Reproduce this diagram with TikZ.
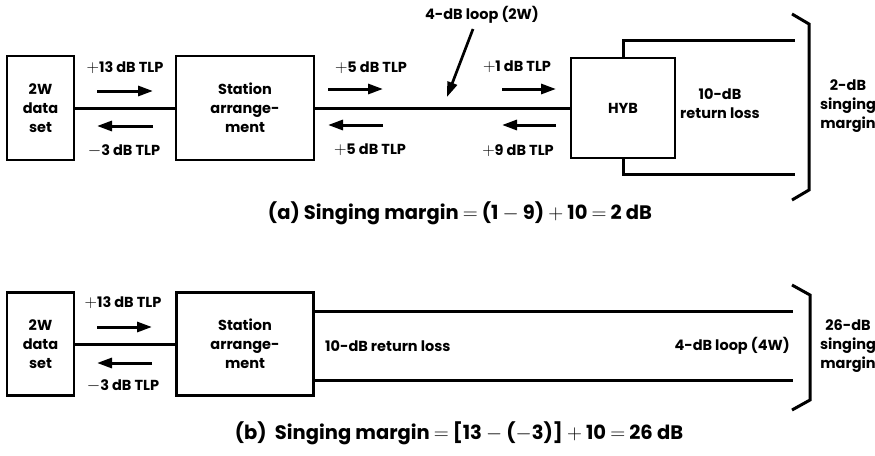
\documentclass[tikz,border=0pt]{standalone}
\usepackage{fontspec}
\setmainfont{Poppins}
\usetikzlibrary{arrows.meta}
\newcommand{\lbfont}{\fontsize{14.5}{19}\selectfont\bfseries}
\newcommand{\capfont}{\fontsize{19.5}{22}\selectfont\bfseries}
\newcommand{\pl}{{\fontsize{17}{19}\selectfont\(\mathbf{+}\)}}
\newcommand{\mi}{{\fontsize{17}{19}\selectfont\(\mathbf{-}\)}}
\begin{document}
\begin{tikzpicture}[x=1pt,y=-1pt,
  box/.style={draw, line width=2.7pt, align=center, inner sep=0pt, font=\lbfont},
  lbl/.style={font=\lbfont, inner sep=0pt, align=center},
  captext/.style={font=\capfont, inner sep=0pt},
  wire/.style={line width=3pt, line join=miter},
  sig/.style={line width=3pt, -{Triangle[length=15pt,width=10pt]}},
  loopar/.style={line width=2.7pt, -{Triangle[length=15pt,width=10pt]}}]
\useasboundingbox (0,0) rectangle (875,455);

% ---------------- (a) ----------------
\node[box, minimum width=67pt, minimum height=104pt] (ds1) at (40.5,108) {2W\\data\\set};
\node[box, minimum width=138pt, minimum height=104pt] (sa1) at (245,108) {Station\\arrange-\\ment};
\node[box, minimum width=104pt, minimum height=100pt] (hyb) at (623,108) {HYB};
\draw[wire] (ds1) -- (sa1);
\draw[wire] (sa1) -- (hyb);
\coordinate (ha) at (795,40);
\coordinate (hb) at (795,174);
\draw[wire] (hyb.north) |- (ha);
\draw[wire] (hyb.south) |- (hb);
\node[lbl] (rla) at (720,104) {10-dB\\return loss};
\coordinate (ba1) at (792,14);
\coordinate (ba2) at (809,24);
\coordinate (ba3) at (809,190);
\coordinate (ba4) at (792,200);
\draw[wire] (ba1) -- (ba2) -- (ba3) -- (ba4);
\node[lbl] (sma) at (848,106) {2-dB\\singing\\margin};

\node[lbl] (t13a) at (125,68) {\pl13 dB TLP};
\coordinate (a1s) at (97,91);  \coordinate (a1e) at (153,91);
\draw[sig] (a1s) -- (a1e);
\coordinate (a2s) at (153,126); \coordinate (a2e) at (97,126);
\draw[sig] (a2s) -- (a2e);
\node[lbl] (t3a) at (124,151) {\mi3 dB TLP};

\node[lbl] (t5a) at (371,68) {\pl5 dB TLP};
\coordinate (a3s) at (328,89);  \coordinate (a3e) at (383,89);
\draw[sig] (a3s) -- (a3e);
\coordinate (a4s) at (383,125); \coordinate (a4e) at (328,125);
\draw[sig] (a4s) -- (a4e);
\node[lbl] (t5b) at (370,150) {\pl5 dB TLP};

\node[lbl] (t1a) at (517,67) {\pl1 dB TLP};
\coordinate (a5s) at (502,89);  \coordinate (a5e) at (556,89);
\draw[sig] (a5s) -- (a5e);
\coordinate (a6s) at (556,125); \coordinate (a6e) at (502,125);
\draw[sig] (a6s) -- (a6e);
\node[lbl] (t9a) at (518,151) {\pl9 dB TLP};

\node[lbl] (loopa) at (482,15) {4-dB loop (2W)};
\coordinate (la1) at (473,29); \coordinate (la2) at (447,97);
\draw[loopar] (la1) -- (la2);

\node[captext] (capa) at (460,213) {(a) Singing margin \(=\) (1 \(-\) 9) \(+\) 10 \(=\) 2 dB};

% ---------------- (b) ----------------
\node[box, minimum width=67pt, minimum height=103pt] (ds2) at (40.5,344) {2W\\data\\set};
\node[box, minimum width=137pt, minimum height=103pt] (sa2) at (245,344) {Station\\arrange-\\ment};
\draw[wire] (ds2) -- (sa2);
\coordinate (tu) at (793,311);
\coordinate (tl) at (793,380);
\draw[wire] (sa2.east |- tu) -- (tu);
\draw[wire] (sa2.east |- tl) -- (tl);
\node[lbl, anchor=west] (rlb) at (325,346) {10-dB return loss};
\node[lbl, anchor=east] (loopb) at (790,346) {4-dB loop (4W)};
\coordinate (bb1) at (792,285);
\coordinate (bb2) at (810,295);
\coordinate (bb3) at (810,400);
\coordinate (bb4) at (792,410);
\draw[wire] (bb1) -- (bb2) -- (bb3) -- (bb4);
\node[lbl] (smb) at (848,346) {26-dB\\singing\\margin};

\node[lbl] (t13b) at (123,303) {\pl13 dB TLP};
\coordinate (b1s) at (97,327);  \coordinate (b1e) at (152,327);
\draw[sig] (b1s) -- (b1e);
\coordinate (b2s) at (152,363); \coordinate (b2e) at (97,363);
\draw[sig] (b2s) -- (b2e);
\node[lbl] (t3b) at (123,386) {\mi3 dB TLP};

\node[captext] (capb) at (459,433) {(b)\ \ Singing margin \(=\) [13 \(-\) (\(-\)3)] \(+\) 10 \(=\) 26 dB};
\end{tikzpicture}
\end{document}
